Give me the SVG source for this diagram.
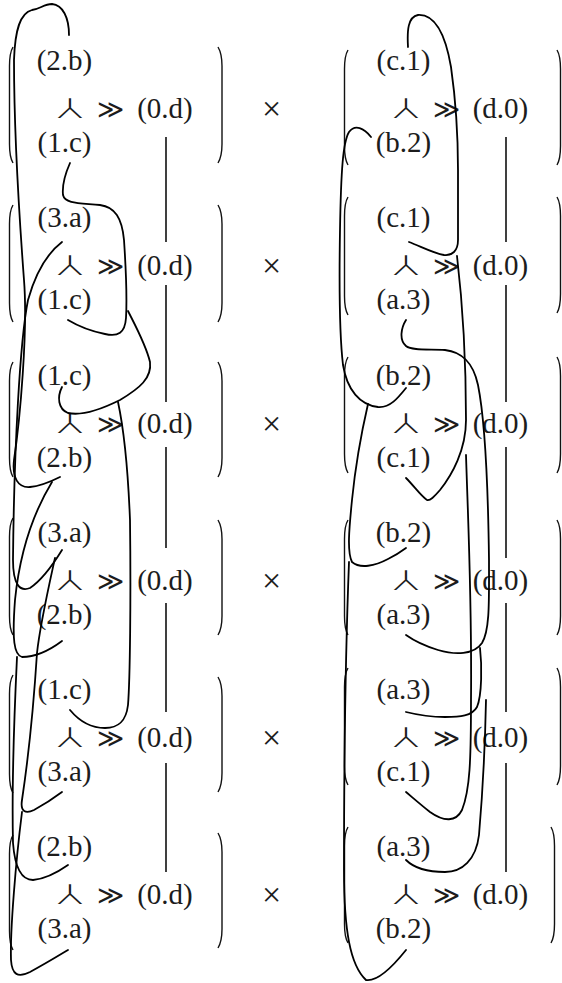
<svg xmlns="http://www.w3.org/2000/svg" xmlns:xlink="http://www.w3.org/1999/xlink" width="562" height="983" viewBox="0 0 562 983">
<style>
  text { font-family: "Liberation Serif", "DejaVu Serif", serif; font-size: 29px; fill: #1c1c1c; text-anchor: middle; }
  .op { font-family: "DejaVu Sans", "DejaVu Serif", sans-serif; font-weight: 200; font-size: 26px; }
  .turn { font-family: "DejaVu Sans", "DejaVu Serif", sans-serif; font-weight: 200; font-size: 27px; }
  .times { font-size: 34px; }
  .brk { fill: none; stroke: #111; stroke-width: 1.4; }
  .rule { stroke: #111; stroke-width: 1.6; }
  .wire { fill: none; stroke: #000; stroke-width: 1.8; stroke-linecap: round; stroke-linejoin: round; }
</style>
<defs>
  <!-- the turned-Y connective, widened to the spread of the set glyph -->
  <text id="par" class="turn" x="0" y="0" transform="scale(1.6,1)">⅄</text>
</defs>

<!-- left factors -->
<g id="row1-left">
  <path class="brk" d="M13,47 C10,52 9.5,58 9.5,66 L9.5,144 C9.5,152 10,158 13,163"/>
  <path class="brk" d="M218,47 C221,52 222,58 222,66 L222,144 C222,152 221,158 218,163"/>
  <text x="64.5" y="70">(2.b)</text><text x="64.5" y="152">(1.c)</text>
  <use xlink:href="#par" x="70" y="118"/><text class="op" x="110" y="118">≫</text>
  <text x="165" y="118">(0.d)</text><text class="times" x="271.5" y="120">×</text>
</g>
<g id="row2-left">
  <path class="brk" d="M13,205 C10,210 9.5,216 9.5,224 L9.5,303 C9.5,311 10,317 13,322"/>
  <path class="brk" d="M218,205 C221,210 222,216 222,224 L222,303 C222,311 221,317 218,322"/>
  <text x="64.5" y="227">(3.a)</text><text x="64.5" y="309">(1.c)</text>
  <use xlink:href="#par" x="70" y="275"/><text class="op" x="110" y="275">≫</text>
  <text x="165" y="275">(0.d)</text><text class="times" x="271.5" y="277">×</text>
</g>
<g id="row3-left">
  <path class="brk" d="M13,362 C10,367 9.5,373 9.5,381 L9.5,458 C9.5,466 10,472 13,477"/>
  <path class="brk" d="M218,362 C221,367 222,373 222,381 L222,458 C222,466 221,472 218,477"/>
  <text x="64.5" y="385">(1.c)</text><text x="64.5" y="467">(2.b)</text>
  <use xlink:href="#par" x="70" y="433"/><text class="op" x="110" y="433">≫</text>
  <text x="165" y="433">(0.d)</text><text class="times" x="271.5" y="435">×</text>
</g>
<g id="row4-left">
  <path class="brk" d="M13,518 C10,523 9.5,529 9.5,537 L9.5,616 C9.5,624 10,630 13,635"/>
  <path class="brk" d="M218,520 C221,525 222,531 222,539 L222,616 C222,624 221,630 218,635"/>
  <text x="64.5" y="542">(3.a)</text><text x="64.5" y="624">(2.b)</text>
  <use xlink:href="#par" x="70" y="590"/><text class="op" x="110" y="590">≫</text>
  <text x="165" y="590">(0.d)</text><text class="times" x="271.5" y="592">×</text>
</g>
<g id="row5-left">
  <path class="brk" d="M13,675 C10,680 9.5,686 9.5,694 L9.5,774 C9.5,782 10,788 13,793"/>
  <path class="brk" d="M218,677 C221,682 222,688 222,696 L222,773 C222,781 221,787 218,792"/>
  <text x="64.5" y="699">(1.c)</text><text x="64.5" y="781">(3.a)</text>
  <use xlink:href="#par" x="70" y="747"/><text class="op" x="110" y="747">≫</text>
  <text x="165" y="747">(0.d)</text><text class="times" x="271.5" y="749">×</text>
</g>
<g id="row6-left">
  <path class="brk" d="M13,835 C10,840 9.5,846 9.5,854 L9.5,931 C9.5,939 10,945 13,950"/>
  <path class="brk" d="M218,833 C221,838 222,844 222,852 L222,929 C222,937 221,943 218,948"/>
  <text x="64.5" y="856">(2.b)</text><text x="64.5" y="938">(3.a)</text>
  <use xlink:href="#par" x="70" y="904"/><text class="op" x="110" y="904">≫</text>
  <text x="165" y="904">(0.d)</text><text class="times" x="271.5" y="906">×</text>
</g>

<!-- right factors -->
<g id="row1-right">
  <path class="brk" d="M348,50 C345,55 344.5,61 344.5,69 L344.5,146 C344.5,154 345,160 348,165"/>
  <path class="brk" d="M557,50 C560,55 560.5,61 560.5,69 L560.5,146 C560.5,154 560,160 557,165"/>
  <text x="403.5" y="70">(c.1)</text><text x="403.5" y="152">(b.2)</text>
  <use xlink:href="#par" x="406" y="118"/><text class="op" x="446" y="118">≫</text>
  <text x="500.5" y="118">(d.0)</text>
</g>
<g id="row2-right">
  <path class="brk" d="M348,197 C345,202 344.5,208 344.5,216 L344.5,296 C344.5,304 345,310 348,315"/>
  <path class="brk" d="M557,197 C560,202 560.5,208 560.5,216 L560.5,294 C560.5,302 560,308 557,313"/>
  <text x="403.5" y="227">(c.1)</text><text x="403.5" y="309">(a.3)</text>
  <use xlink:href="#par" x="406" y="275"/><text class="op" x="446" y="275">≫</text>
  <text x="500.5" y="275">(d.0)</text>
</g>
<g id="row3-right">
  <path class="brk" d="M348,357 C345,362 344.5,368 344.5,376 L344.5,454 C344.5,462 345,468 348,473"/>
  <path class="brk" d="M557,357 C560,362 560.5,368 560.5,376 L560.5,454 C560.5,462 560,468 557,473"/>
  <text x="403.5" y="385">(b.2)</text><text x="403.5" y="467">(c.1)</text>
  <use xlink:href="#par" x="406" y="433"/><text class="op" x="446" y="433">≫</text>
  <text x="500.5" y="433">(d.0)</text>
</g>
<g id="row4-right">
  <path class="brk" d="M348,520 C345,525 344.5,531 344.5,539 L344.5,616 C344.5,624 345,630 348,635"/>
  <path class="brk" d="M557,520 C560,525 560.5,531 560.5,539 L560.5,616 C560.5,624 560,630 557,635"/>
  <text x="403.5" y="542">(b.2)</text><text x="403.5" y="624">(a.3)</text>
  <use xlink:href="#par" x="406" y="590"/><text class="op" x="446" y="590">≫</text>
  <text x="500.5" y="590">(d.0)</text>
</g>
<g id="row5-right">
  <path class="brk" d="M348,668 C345,673 344.5,679 344.5,687 L344.5,766 C344.5,774 345,780 348,785"/>
  <path class="brk" d="M557,668 C560,673 560.5,679 560.5,687 L560.5,766 C560.5,774 560,780 557,785"/>
  <text x="403.5" y="699">(a.3)</text><text x="403.5" y="781">(c.1)</text>
  <use xlink:href="#par" x="406" y="747"/><text class="op" x="446" y="747">≫</text>
  <text x="500.5" y="747">(d.0)</text>
</g>
<g id="row6-right">
  <path class="brk" d="M348,827 C345,832 344.5,838 344.5,846 L344.5,924 C344.5,932 345,938 348,943"/>
  <path class="brk" d="M551,827 C554,832 554.5,838 554.5,846 L554.5,924 C554.5,932 554,938 551,943"/>
  <text x="403.5" y="856">(a.3)</text><text x="403.5" y="938">(b.2)</text>
  <use xlink:href="#par" x="406" y="904"/><text class="op" x="446" y="904">≫</text>
  <text x="500.5" y="904">(d.0)</text>
</g>

<!-- connectors -->
<g id="connectors">
  <!-- straight links between the (0.d) and (d.0) entries -->
  <path class="rule" d="M166,137 V242 M166,285 V402 M166,447 V548 M166,603 V712 M166,763 V872"/>
  <path class="rule" d="M506,137 V242 M506,285 V402 M506,447 V558 M506,603 V712 M506,763 V872"/>

  <!-- left column wires -->
  <path class="wire" d="M69,35 C69,18 63,5 52,4 C44,4 40,9 32,10 C20,13 15,30 14,60 C14,120 18,200 24,280 C28,330 20,420 14,460 C12,478 18,488 30,487 C42,486 52,481 60,477"/>
  <path class="wire" d="M70,163 C66,172 62,185 63,195 C65,204 80,203 100,205 C115,207 122,218 124,240 C126,270 127,300 126,318 C125,333 118,337 105,334 C90,331 78,326 68,320"/>
  <path class="wire" d="M128,311 C135,325 146,345 150,362 C152,378 140,388 120,400 C100,410 82,416 68,413 C58,409 57,397 62,387"/>
  <path class="wire" d="M118,402 C124,430 128,470 130,520 C131,600 130,680 128,705 C126,722 118,728 105,728 C92,728 80,722 70,710"/>
  <path class="wire" d="M62,242 C45,255 35,275 28,300 C20,340 14,450 13,560 C13,585 20,592 30,588 C42,580 54,563 62,550"/>
  <path class="wire" d="M52,482 C35,510 20,550 15,600 C12,640 14,655 22,657 C35,657 50,650 62,641"/>
  <path class="wire" d="M55,558 C48,590 40,625 37,653 C34,700 28,760 22,800 C20,812 26,814 34,810 C45,804 54,798 62,792"/>
  <path class="wire" d="M17,657 C14,720 12,800 13,843 C15,870 22,880 33,880 C45,879 58,872 68,865"/>
  <path class="wire" d="M22,812 C16,860 10,930 11,960 C12,975 18,978 30,972 C45,964 58,956 68,950"/>

  <!-- right column wires -->
  <path class="wire" d="M408,47 C407,30 408,17 418,15 C436,14 446,38 451,67 C455,95 458,130 458,170 L458,240 C458,251 452,256 444,255 C433,253 420,246 409,242"/>
  <path class="wire" d="M457,256 C461,290 466,350 466,420 C466,450 452,475 440,490 C434,497 430,501 427,500 C421,496 414,486 406,478"/>
  <path class="wire" d="M466,455 C468,520 472,600 471,700 C471,760 470,790 462,810 C456,822 444,822 430,812 C420,804 412,797 406,792"/>
  <path class="wire" d="M406,320 C401,328 399,340 406,346 C412,351 430,349 445,350 C462,352 473,362 478,385 C485,420 488,480 489,560 C489,600 490,630 482,643 C474,655 455,655 438,650 C425,646 413,640 406,635"/>
  <path class="wire" d="M480,648 C482,665 482,695 477,707 C472,716 460,717 445,717 C430,717 418,715 406,712"/>
  <path class="wire" d="M486,700 C485,750 482,800 479,835 C476,860 462,872 445,872 C428,872 414,868 406,860"/>
  <path class="wire" d="M371,137 C364,128 355,124 349,132 C343,142 341,170 340,230 C339,290 340,340 343,365 C347,390 360,405 378,407 C390,408 398,398 406,388"/>
  <path class="wire" d="M368,404 C362,430 356,460 352,500 C349,530 347,552 352,562 C360,569 375,566 388,559 C396,555 402,551 406,548"/>
  <path class="wire" d="M349,562 C346,640 344,760 344,870 C344,930 350,965 366,980 C378,982 394,965 406,950"/>
</g>
</svg>
